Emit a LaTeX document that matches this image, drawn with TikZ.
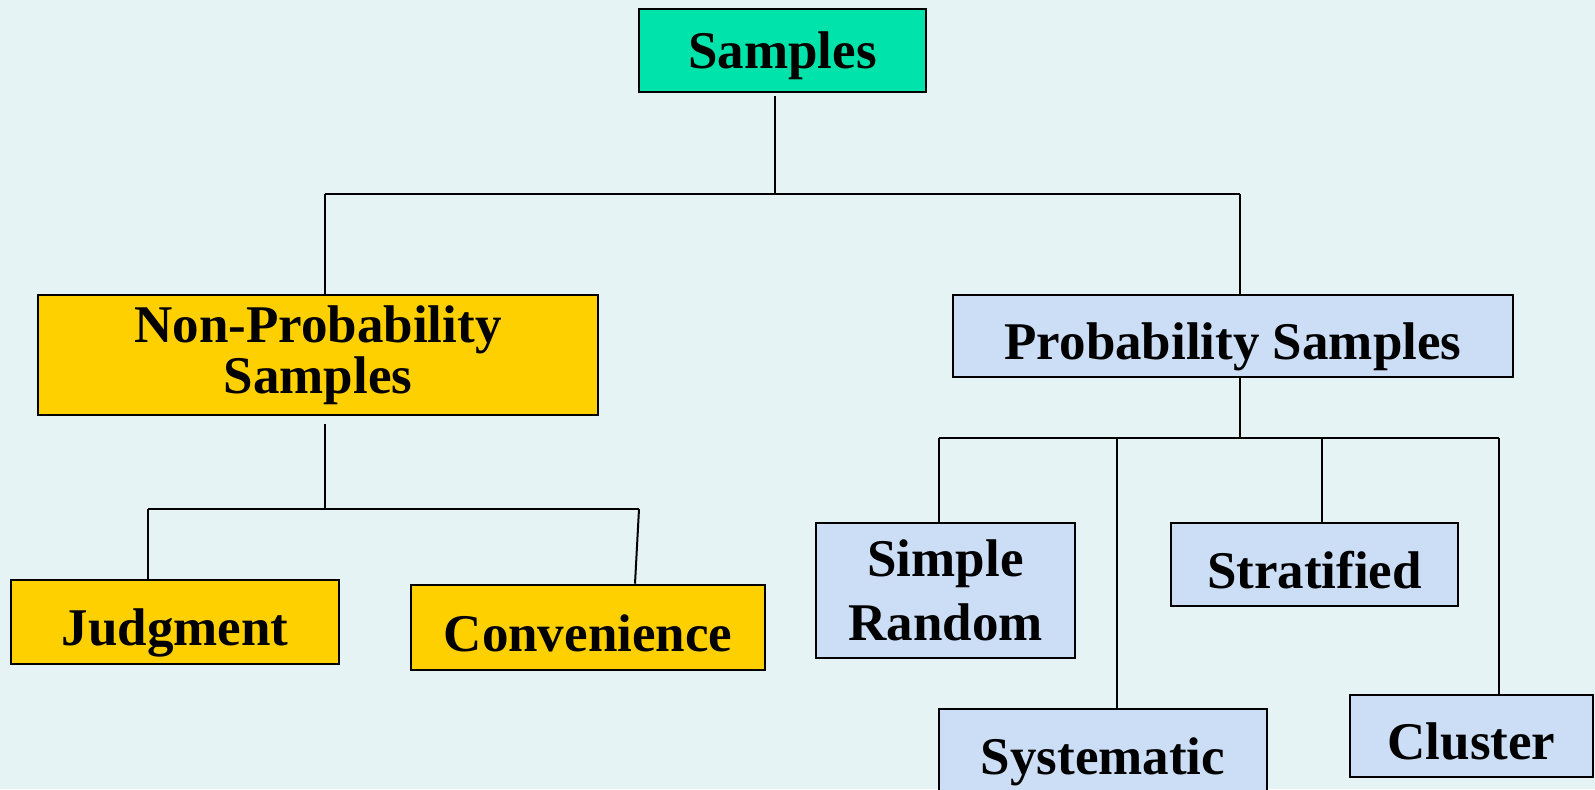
\documentclass[tikz,border=0pt]{standalone}
\usepackage{fontspec}
\setmainfont{Liberation Serif}
\usetikzlibrary{calc}
\definecolor{bgc}{HTML}{E5F3F5}
\definecolor{tealc}{HTML}{00E3AA}
\definecolor{yel}{HTML}{FFD000}
\definecolor{lblue}{HTML}{CCDEF5}
\tikzset{
  box/.style={draw=black, line width=1.3pt, inner sep=0pt, align=center,
    font=\bfseries\fontsize{26.5}{31}\selectfont},
  one/.style={text height=23.5pt, text depth=0pt},
  conn/.style={draw=black, line width=1pt},
}
\begin{document}
\begin{tikzpicture}[x=0.5pt,y=-0.5pt]
\useasboundingbox (0,0) rectangle (1595,789);
\clip (0,0) rectangle (1595,789);
\fill[bgc] (0,0) rectangle (1595,789);

% boxes
\node[box, fill=tealc, text height=17.5pt, text depth=0pt, minimum width=143.5pt, minimum height=41.5pt] (samples) at (782.5,50.5) {Samples};
\node[box, fill=yel, minimum width=280pt, minimum height=60pt,
  font=\bfseries\fontsize{26.5}{25.5}\selectfont] (np) at (318,355) {Non-Probability\\Samples};
\node[box, fill=lblue, one, minimum width=280pt, minimum height=41pt] (prob) at (1233,336) {Probability Samples};
\node[box, fill=yel, one, minimum width=164pt, minimum height=42pt] (judg) at (175,622) {Judgment};
\node[box, fill=yel, one, minimum width=177pt, minimum height=42.5pt] (conv) at (588,627.5) {Convenience};
\node[box, fill=lblue, minimum width=129.5pt, minimum height=67.5pt,
  font=\bfseries\fontsize{26.5}{32}\selectfont] (sr) at (945.5,590.5) {Simple\\Random};
\node[box, fill=lblue, one, minimum width=143.5pt, minimum height=41.5pt] (strat) at (1314.5,564.5) {Stratified};
\node[box, fill=lblue, one, minimum width=164pt, minimum height=41.5pt] (sys) at (1103,750.5) {Systematic};
\node[box, fill=lblue, one, minimum width=121.5pt, minimum height=41pt] (clus) at (1471.5,736) {Cluster};

% junction coordinates
\coordinate (jtop) at (775,194);
\coordinate (jl) at (325,194);
\coordinate (jr) at (1240,194);
\coordinate (jnp) at (325,509);
\coordinate (jnpl) at (148,509);
\coordinate (jnpr) at (639,509);
\coordinate (cvx) at (635,0);
\coordinate (jp) at (1240,438);
\coordinate (jp1) at (939,438);
\coordinate (jp2) at (1117,438);
\coordinate (jp3) at (1322,438);
\coordinate (jp4) at (1499,438);

% connectors
\draw[conn] ($(samples.south -| jtop)+(0,3)$) -- (jtop);
\draw[conn] (jl) -- (jr);
\draw[conn] (jl) -- (np.north -| jl);
\draw[conn] (jr) -- (prob.north -| jr);

\draw[conn] ($(np.south -| jnp)+(0,8)$) -- (jnp);
\draw[conn] (jnpl) -- (jnpr);
\draw[conn] (jnpl) -- (judg.north -| jnpl);
\draw[conn] (jnpr) -- (conv.north -| cvx);

\draw[conn] (prob.south -| jp) -- (jp);
\draw[conn] (jp1) -- (jp4);
\draw[conn] (jp1) -- (sr.north -| jp1);
\draw[conn] (jp2) -- (sys.north -| jp2);
\draw[conn] (jp3) -- (strat.north -| jp3);
\draw[conn] (jp4) -- (clus.north -| jp4);
\end{tikzpicture}
\end{document}
